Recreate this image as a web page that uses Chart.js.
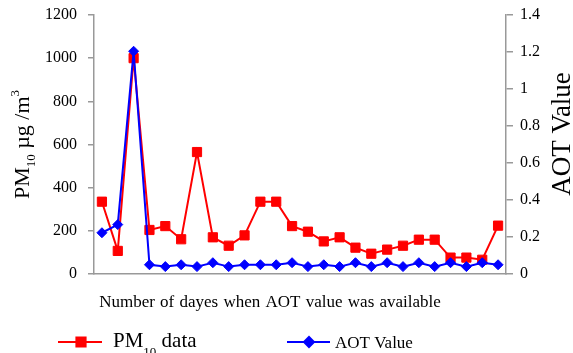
<!DOCTYPE html>
<html lang="en">
<head>
  <meta charset="UTF-8" />
  <title>PM10 and AOT</title>
  <script src="https://cdn.jsdelivr.net/npm/chart.js"></script>
  <style>
    body { margin: 0; background: #fff; }
    canvas { display: block; }
  </style>
</head>
<body>
  <canvas id="pmChart" width="573" height="353"></canvas>
  <script>
    // data
    const days = ['1','2','3','4','5','6','7','8','9','10','11','12','13',
                  '14','15','16','17','18','19','20','21','22','23','24','25','26'];
    const pm10 = [335, 107, 1000, 204, 222, 161, 565, 170, 131, 179, 335, 335, 222,
                  196, 151, 170, 122, 94, 113, 131, 159, 159, 76, 76, 66, 224];
    const aot = [0.223, 0.267, 1.204, 0.05, 0.04, 0.05, 0.04, 0.061, 0.04, 0.05, 0.05, 0.05, 0.061,
                 0.04, 0.05, 0.04, 0.061, 0.04, 0.061, 0.04, 0.061, 0.04, 0.061, 0.04, 0.061, 0.05];
    const pmTicks = { min: 0, max: 1200, step: 200 };
    const aotTicks = { min: 0, max: 1.4, step: 0.2 };

    const SERIF = "'Liberation Serif', 'Times New Roman', serif";
    const RED = '#ff0000';
    const BLUE = '#0000ff';
    const AXIS = '#999999';

    Chart.defaults.font.family = SERIF;
    Chart.defaults.color = '#000';

    // draws a row of text pieces (normal / sub / sup) starting at x
    function richText(ctx, x, y, parts) {
      parts.forEach(p => {
        ctx.font = p.size + 'px ' + SERIF;
        ctx.fillText(p.t, x, y + (p.dy || 0));
        x += ctx.measureText(p.t).width;
      });
    }
    function richWidth(ctx, parts) {
      let w = 0;
      parts.forEach(p => {
        ctx.font = p.size + 'px ' + SERIF;
        w += ctx.measureText(p.t).width;
      });
      return w;
    }

    // fixed axis boxes so the plot area sits where the original one is
    function fixSide(width) {
      return s => { s.width = width; s.paddingTop = 0; s.paddingBottom = 0; };
    }

    const titles = {
      id: 'titles',
      afterDraw(chart) {
        const ctx = chart.ctx;
        const area = chart.chartArea;
        ctx.save();
        ctx.fillStyle = '#000';
        ctx.textBaseline = 'alphabetic';
        ctx.textAlign = 'left';

        // left axis title
        const leftParts = [
          { t: 'PM', size: 22 },
          { t: '10', size: 13, dy: 6 },
          { t: ' µg /m', size: 22 },
          { t: '3', size: 13, dy: -10 }
        ];
        ctx.save();
        ctx.translate(29, (area.top + area.bottom) / 2);
        ctx.rotate(-Math.PI / 2);
        richText(ctx, -richWidth(ctx, leftParts) / 2, 0, leftParts);
        ctx.restore();

        // right axis title
        const rightParts = [{ t: 'AOT Value', size: 27 }];
        ctx.save();
        ctx.translate(570, 134);
        ctx.rotate(-Math.PI / 2);
        richText(ctx, -richWidth(ctx, rightParts) / 2, 0, rightParts);
        ctx.restore();

        // x axis title
        ctx.wordSpacing = '1px';
        const xParts = [{ t: 'Number of dayes when AOT value was available', size: 17 }];
        richText(ctx, 270 - richWidth(ctx, xParts) / 2, 307, xParts);
        ctx.wordSpacing = '0px';

        // legend
        const ly = 342;
        ctx.lineWidth = 2;
        ctx.strokeStyle = RED;
        ctx.beginPath(); ctx.moveTo(58, ly); ctx.lineTo(102, ly); ctx.stroke();
        ctx.fillStyle = RED;
        Chart.helpers.drawPoint(ctx, { pointStyle: 'rect', radius: 6.5, borderWidth: 1 }, 81, ly);
        ctx.fillStyle = '#000';
        richText(ctx, 113, 347, [
          { t: 'PM', size: 21 },
          { t: '10', size: 13, dy: 9 },
          { t: ' data', size: 21 }
        ]);

        ctx.strokeStyle = BLUE;
        ctx.beginPath(); ctx.moveTo(287, ly); ctx.lineTo(330, ly); ctx.stroke();
        ctx.fillStyle = BLUE;
        Chart.helpers.drawPoint(ctx, { pointStyle: 'rectRot', radius: 5, borderWidth: 1 }, 309, ly);
        ctx.fillStyle = '#000';
        richText(ctx, 335, 348, [{ t: 'AOT Value', size: 17 }]);
        ctx.restore();
      }
    };

    const ctx = document.getElementById('pmChart').getContext('2d');
    new Chart(ctx, {
      type: 'line',
      data: {
        labels: days,
        datasets: [
          {
            label: 'AOT Value',
            data: aot,
            yAxisID: 'y1',
            borderColor: BLUE,
            backgroundColor: BLUE,
            borderWidth: 2,
            pointStyle: 'rectRot',
            pointRadius: 5,
            pointBorderWidth: 1,
            tension: 0,
            order: 0
          },
          {
            label: 'PM10 data',
            data: pm10,
            yAxisID: 'y',
            borderColor: RED,
            backgroundColor: RED,
            borderWidth: 2,
            pointStyle: 'rect',
            pointRadius: 6.5,
            pointBorderWidth: 1,
            tension: 0,
            order: 1
          }
        ]
      },
      options: {
        responsive: false,
        animation: false,
        devicePixelRatio: 1,
        layout: { padding: { left: 0, right: 0, top: 15, bottom: 0 } },
        plugins: {
          legend: { display: false },
          tooltip: { enabled: false }
        },
        scales: {
          x: {
            offset: true,
            grid: { display: false },
            border: { color: AXIS, width: 1.5 },
            ticks: { display: false },
            afterFit: s => { s.height = 79; }
          },
          y: {
            position: 'left',
            min: pmTicks.min,
            max: pmTicks.max,
            ticks: { stepSize: pmTicks.step, color: '#000', padding: 11,
                     font: { family: SERIF, size: 16 },
                     callback: v => String(v) },
            grid: { drawOnChartArea: false, tickLength: 6, color: AXIS, lineWidth: 1.5 },
            border: { color: AXIS, width: 1.5 },
            afterFit: fixSide(94)
          },
          y1: {
            position: 'right',
            min: aotTicks.min,
            max: aotTicks.max,
            ticks: { stepSize: aotTicks.step, color: '#000', padding: 7,
                     font: { family: SERIF, size: 16 },
                     callback: v => String(parseFloat(v.toFixed(1))) },
            grid: { drawOnChartArea: false, tickLength: 7, color: AXIS, lineWidth: 1.5 },
            border: { color: AXIS, width: 1.5 },
            afterFit: fixSide(67)
          }
        }
      },
      plugins: [titles]
    });
  </script>
</body>
</html>
